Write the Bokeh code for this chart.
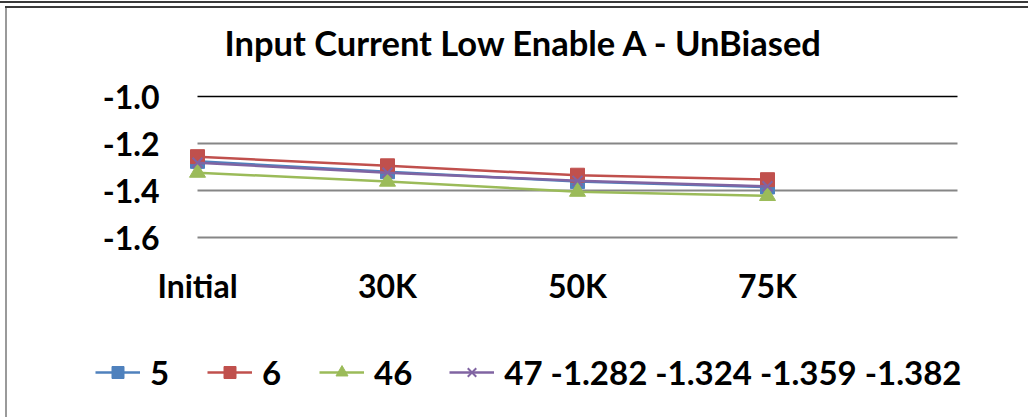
from bokeh.plotting import figure
from bokeh.models import Range1d, FixedTicker, Grid, Legend, LegendItem, PrintfTickFormatter
from bokeh.embed import file_html
from bokeh.resources import INLINE

# ---- data ----
categories = ["Initial", "30K", "50K", "75K"]
s5 = [-1.276, -1.320, -1.362, -1.385]
s6 = [-1.256, -1.295, -1.335, -1.354]
s46 = [-1.324, -1.362, -1.405, -1.423]
s47 = [-1.282, -1.324, -1.359, -1.382]
series_names = ["5", "6", "46", "47 -1.282 -1.324 -1.359 -1.382"]
y_ticks = [-1.6, -1.4, -1.2, -1.0]
title_text = "Input Current Low Enable A - UnBiased"

FONT = "Lato"
FS = "32px"

# ---- layout (pixels) ----
W, H = 1032, 417
FRAME_L, FRAME_T = 95, 72            # frame covers legend area as well
CAT0_PX, CAT_STEP = 197, 190         # first category position, px per category
YTOP_PX, YBOT_PX = 96, 237           # pixel rows of -1.0 and -1.6
LEGEND_MID = 373
n_slots = len(categories) + 1
ppu = (YBOT_PX - YTOP_PX) / (y_ticks[-1] - y_ticks[0])

x_start = -(CAT0_PX - FRAME_L) / CAT_STEP
x_end = (W - CAT0_PX) / CAT_STEP
y_end = y_ticks[-1] + (YTOP_PX - FRAME_T) / ppu
y_start = y_ticks[0] - (H - YBOT_PX) / ppu

p = figure(width=W, height=H, output_backend="svg", toolbar_location=None,
           x_range=Range1d(x_start, x_end), y_range=Range1d(y_start, y_end),
           min_border_left=FRAME_L, min_border_right=0,
           min_border_top=FRAME_T, min_border_bottom=0)
p.outline_line_color = None
p.background_fill_color = None
p.border_fill_color = None
p.styles = {
    "background": ("linear-gradient(white,white) right 0px top 0px / 4px 100% no-repeat, "
                   "linear-gradient(#3a3a3a,#3a3a3a) 0px 1px / 100% 2px no-repeat, "
                   "linear-gradient(#3a3a3a,#3a3a3a) 5px 6px / 100% 2px no-repeat, "
                   "linear-gradient(#9a9a9a,#9a9a9a) 5px 6px / 2px 100% no-repeat, white"),
}

p.title.text = title_text
p.title.align = "left"
p.title.offset = 123
p.title.padding = 6
p.title.text_font = FONT
p.title.text_font_size = "34.5px"
p.title.text_font_style = "bold"
p.title.text_color = "black"
p.title.standoff = 8

xs = list(range(len(categories)))

# axes (fixed inside the frame)
p.xaxis.fixed_location = y_ticks[0]
p.yaxis.fixed_location = 0
p.xaxis.ticker = FixedTicker(ticks=xs)
p.xaxis.major_label_overrides = {i: c for i, c in enumerate(categories)}
p.yaxis.ticker = FixedTicker(ticks=y_ticks)
p.yaxis.formatter = PrintfTickFormatter(format="%.1f")
for ax in (p.xaxis[0], p.yaxis[0]):
    ax.axis_line_color = None
    ax.major_tick_line_color = None
    ax.minor_tick_line_color = None
    ax.major_label_text_font = FONT
    ax.major_label_text_font_size = FS
    ax.major_label_text_font_style = "bold"
    ax.major_label_text_color = "black"
p.xaxis.major_label_standoff = 22
p.yaxis.major_label_standoff = 32

p.xgrid.grid_line_color = None
p.ygrid.ticker = FixedTicker(ticks=y_ticks[:-1])
p.ygrid.grid_line_color = "#868686"
p.ygrid.grid_line_width = 2
p.ygrid.cross_bounds = (0, n_slots - 1)

top_line = Grid(dimension=1, ticker=FixedTicker(ticks=[y_ticks[-1]]),
                grid_line_color="black", grid_line_width=1.5,
                cross_bounds=(0, n_slots - 1))
p.add_layout(top_line)

colors = ["#4F81BD", "#C0504D", "#9BBB59", "#8064A2"]
markers = ["square", "square", "triangle", "x"]
msizes = [14, 14, 16, 14]
items = []
for vals, name, c, m, ms in zip([s5, s6, s46, s47], series_names, colors, markers, msizes):
    ln = p.line(xs, vals, line_color=c, line_width=2.5)
    if m == "x":
        sc = p.scatter(xs, vals, marker=m, size=ms, line_color=c, line_width=2)
    else:
        sc = p.scatter(xs, vals, marker=m, size=ms, fill_color=c, line_color=c)
    items.append(LegendItem(label=name, renderers=[ln, sc]))

LH = 38
legend = Legend(items=items, orientation="horizontal", location=(0, H - (LEGEND_MID + LH // 2)),
                label_text_font=FONT, label_text_font_size="33px", label_text_font_style="bold",
                label_text_color="black", glyph_width=45, glyph_height=30,
                label_height=LH, label_standoff=10, spacing=37, padding=0, margin=0,
                border_line_color=None, background_fill_alpha=0)
p.add_layout(legend)

open("out.html", "w").write(file_html(p, INLINE))
